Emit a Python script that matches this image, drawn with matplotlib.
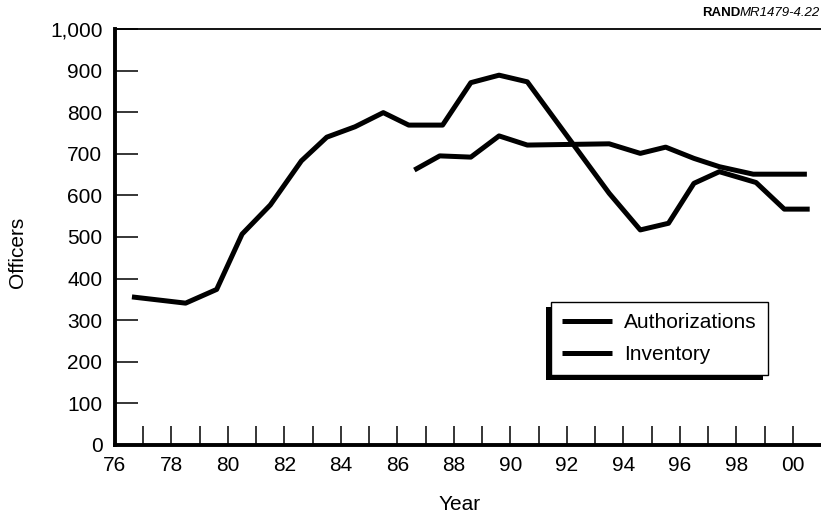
import matplotlib
matplotlib.use("Agg")
import matplotlib.pyplot as plt
from matplotlib.patches import Rectangle

# --- dados (ano fiscal, oficiais) ---
inv_anos = [76.6, 78.5, 79.6, 80.5, 81.5, 82.6, 83.5, 84.5, 85.5, 86.4, 87.6,
            88.6, 89.6, 90.6, 93.5, 94.6, 95.6, 96.5, 97.4, 98.7, 99.7, 100.6]
inv_valores = [356, 341, 374, 507, 577, 683, 740, 765, 799, 769, 769,
               871, 889, 873, 605, 517, 533, 629, 657, 631, 567, 567]

aut_anos = [86.6, 87.5, 88.6, 89.6, 90.6, 93.5, 94.6, 95.5, 96.5, 97.4, 98.6, 100.5]
aut_valores = [661, 695, 692, 743, 721, 724, 701, 716, 689, 669, 651, 651]

anos_rotulo = list(range(76, 101, 2))
rotulos_x = [f"{a % 100:02d}" for a in anos_rotulo]
valores_y = list(range(0, 1001, 100))
rotulos_y = [f"{v:,}" for v in valores_y]

plt.rcParams["font.family"] = ["Liberation Sans", "DejaVu Sans"]
fs = 15

fig = plt.figure(figsize=(8.21, 5.2), dpi=100)
ax = fig.add_axes([115 / 821, 75 / 520, 706 / 821, 416 / 520])

lw = 3.6
ax.plot(aut_anos, aut_valores, color="black", lw=lw, label="Authorizations",
        solid_capstyle="butt", solid_joinstyle="round")
ax.plot(inv_anos, inv_valores, color="black", lw=lw, label="Inventory",
        solid_capstyle="butt", solid_joinstyle="round")

ax.set_xlim(76, 101)
ax.set_ylim(0, 1000)

ax.set_xticks(anos_rotulo)
ax.set_xticklabels(rotulos_x)
ax.set_xticks(list(range(77, 100, 2)), minor=True)
ax.set_yticks(valores_y)
ax.set_yticklabels(rotulos_y)

ax.tick_params(axis="x", which="both", direction="in", length=14, width=1.1,
               labelsize=fs, pad=8)
ax.tick_params(axis="y", direction="in", length=16.5, width=1.1,
               labelsize=fs, pad=9)

# eixos: esquerda e base grossas, topo fino, sem direita
ax.spines["left"].set_linewidth(2.8)
ax.spines["bottom"].set_linewidth(2.8)
ax.spines["top"].set_linewidth(1.3)
ax.spines["right"].set_visible(False)

fig.text(18 / 821, 1 - 252 / 520, "Officers", rotation=90, fontsize=fs,
         ha="center", va="center")
fig.text(460 / 821, 1 - 505 / 520, "Year", fontsize=fs, ha="center", va="center")

# legenda com sombra para baixo e para a esquerda
leg = ax.legend(loc="upper left", bbox_to_anchor=(0.6176, 0.344), borderaxespad=0,
                fontsize=fs, frameon=True, fancybox=False, framealpha=1,
                edgecolor="black", handlelength=2.4, handletextpad=0.55,
                labelspacing=0.6, borderpad=0.55)
leg.get_frame().set_linewidth(1.0)

# etiqueta do canto superior direito
t_ital = fig.text(0.999, 1 - 13 / 520, "MR1479-4.22", fontsize=9.5, style="italic",
                  ha="right", va="center")
fig.canvas.draw()
rend = fig.canvas.get_renderer()
bb_ital = t_ital.get_window_extent(rend)
fig.text(bb_ital.x0 / fig.bbox.width, 1 - 13 / 520, "RAND", fontsize=9.5,
         fontweight="bold", ha="right", va="center")

bb = leg.get_window_extent(rend)
inv = ax.transAxes.inverted()
(x0, y0) = inv.transform((bb.x0 - 5, bb.y0 - 5))
(x1, y1) = inv.transform((bb.x1 - 5, bb.y1 - 5))
ax.add_patch(Rectangle((x0, y0), x1 - x0, y1 - y0, transform=ax.transAxes,
                       facecolor="black", edgecolor="none", zorder=4.9,
                       clip_on=False))

fig.savefig("out.png", dpi=100)
